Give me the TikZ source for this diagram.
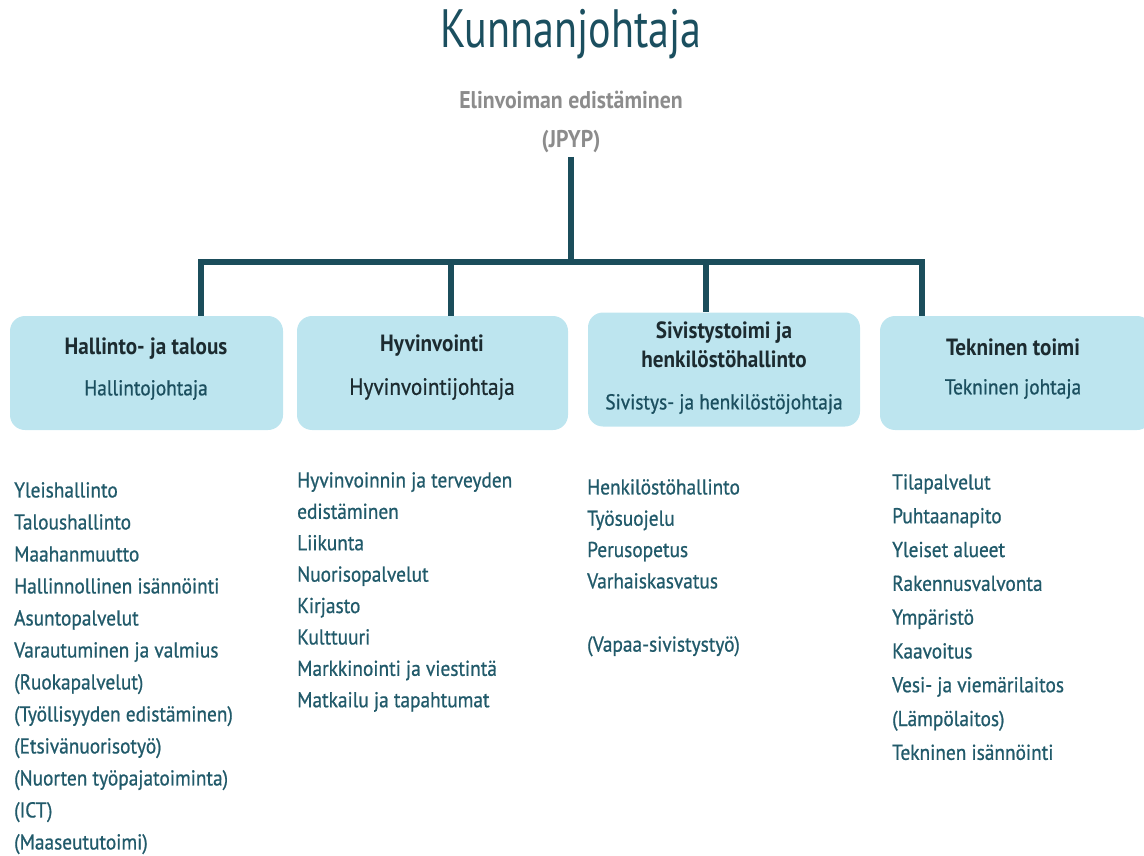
\documentclass[tikz,border=0pt]{standalone}
\usepackage{fontspec}
\setmainfont[FakeStretch=0.9,FakeBold=0.8,BoldFeatures={FakeBold=0}]{PT Sans}
\newfontfamily\titlefont[FakeStretch=0.78]{PT Sans}
\usepackage{xcolor}
\usetikzlibrary{positioning,calc}

\definecolor{teal}{HTML}{1B4F5F}
\definecolor{linecol}{HTML}{1B4D5B}
\definecolor{boxfill}{HTML}{BDE5EF}
\definecolor{greytxt}{HTML}{8C8C8C}
\definecolor{listtxt}{HTML}{215A6A}
\definecolor{headtxt}{HTML}{1C2B30}

\begin{document}
\begin{tikzpicture}[
    x=1pt, y=-1pt,
    unit/.style={rounded corners=15pt, fill=boxfill, minimum height=114pt, align=center, inner sep=0pt},
    head/.style={font=\fontsize{23.5}{29}\selectfont\bfseries, text=headtxt},
    sub/.style={font=\fontsize{21.5}{26}\selectfont, text=teal},
    tasks/.style={anchor=north west, align=left, inner sep=0pt, text=listtxt, font=\fontsize{21.5}{32}\selectfont},
    conn/.style={draw=linecol, line width=6pt}
]
    \useasboundingbox (0,0) rectangle (1144,856);

    % Top
    \node[text=teal, font=\titlefont\fontsize{54}{60}\selectfont] (kj) at (571,34) {Kunnanjohtaja};
    \node[text=greytxt, font=\fontsize{24.2}{30}\selectfont\bfseries] (elin) at (571,100) {Elinvoiman edistäminen};
    \node[text=greytxt, font=\fontsize{24.2}{30}\selectfont\bfseries] (jpyp) at (571,142) {(JPYP)};

    % Units
    \node[unit, minimum width=273pt] (hallinto) at (146.5,373) {};
    \node[unit, minimum width=271pt] (hyvinvointi) at (432.5,373) {};
    \node[unit, minimum width=272pt] (sivistys) at (724,369.5) {};
    \node[unit, minimum width=272pt] (tekninen) at (1016,373) {};

    % Connectors
    \coordinate (bus) at (571,262);
    \coordinate (d1) at (201,262);
    \coordinate (d2) at (451,262);
    \coordinate (d3) at (706,262);
    \coordinate (d4) at (922,262);
    \draw[conn] (jpyp.south) -- (bus);
    \draw[conn] (d1 |- hallinto.north) -- (d1) -- (d4) -- (d4 |- tekninen.north);
    \draw[conn] (d2) -- (d2 |- hyvinvointi.north);
    \draw[conn] (d3) -- (d3 |- sivistys.north);

    % Unit texts
    \node[head] (h1) at (146,349) {Hallinto- ja talous};
    \node[sub] (s1) at (146,390) {Hallintojohtaja};
    \node[head] (h2) at (432,346) {Hyvinvointi};
    \node[sub, text=headtxt, font=\fontsize{23.5}{28}\selectfont] (s2) at (432,389) {Hyvinvointijohtaja};
    \node[head, align=center] (h3) at (724,345) {Sivistystoimi ja\\henkilöstöhallinto};
    \node[sub] (s3) at (724,404) {Sivistys- ja henkilöstöjohtaja};
    \node[head] (h4) at (1013,347) {Tekninen toimi};
    \node[sub] (s4) at (1013,389) {Tekninen johtaja};

    % Task lists
    \node[tasks] (l1) at (14,482) {Yleishallinto\\Taloushallinto\\Maahanmuutto\\Hallinnollinen isännöinti\\Asuntopalvelut\\Varautuminen ja valmius\\(Ruokapalvelut)\\(Työllisyyden edistäminen)\\(Etsivänuorisotyö)\\(Nuorten työpajatoiminta)\\(ICT)\\(Maaseututoimi)};
    \node[tasks, font=\fontsize{21.5}{31.4}\selectfont] (l2) at (297,472) {Hyvinvoinnin ja terveyden\\edistäminen\\Liikunta\\Nuorisopalvelut\\Kirjasto\\Kulttuuri\\Markkinointi ja viestintä\\Matkailu ja tapahtumat};
    \node[tasks, font=\fontsize{21.5}{31.3}\selectfont] (l3) at (587,479) {Henkilöstöhallinto\\Työsuojelu\\Perusopetus\\Varhaiskasvatus\\[32pt](Vapaa-sivistystyö)};
    \node[tasks, font=\fontsize{21.5}{33.8}\selectfont] (l4) at (892,474) {Tilapalvelut\\Puhtaanapito\\Yleiset alueet\\Rakennusvalvonta\\Ympäristö\\Kaavoitus\\Vesi- ja viemärilaitos\\(Lämpölaitos)\\Tekninen isännöinti};
\end{tikzpicture}
\end{document}
